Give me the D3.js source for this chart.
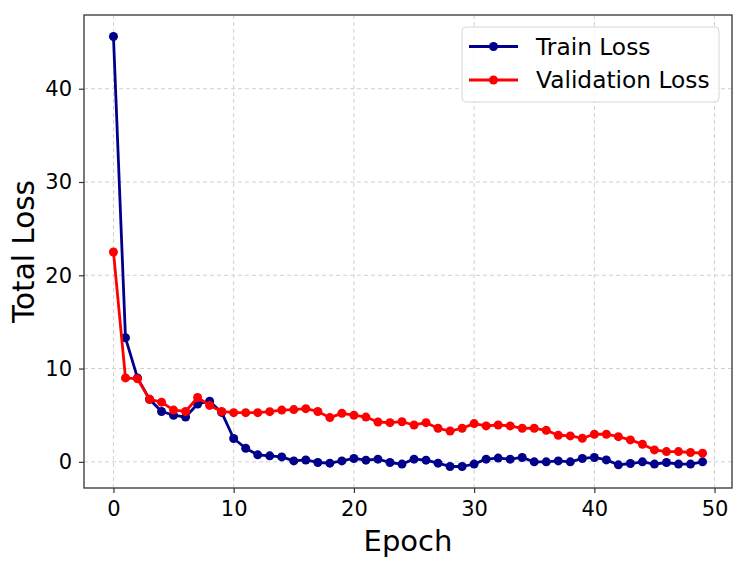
<!DOCTYPE html>
<html>
<head>
<meta charset="utf-8">
<script src="https://cdn.jsdelivr.net/npm/d3@7"></script>
<style>
  body { margin: 0; background: #fff; }
  text { font-family: "DejaVu Sans", sans-serif; }
</style>
</head>
<body>
<div id="chart"></div>
<script>
// epochs 0..49
const epochs = d3.range(50);

const trainLoss = [
  45.6, 13.3, 9.0, 6.7, 5.4, 5.0, 4.8, 6.2, 6.5, 5.3,
  2.5, 1.46, 0.75, 0.64, 0.53, 0.1, 0.2, -0.07, -0.14, 0.1,
  0.36, 0.18, 0.29, -0.07, -0.24, 0.29, 0.18, -0.14, -0.5, -0.5,
  -0.24, 0.29, 0.4, 0.29, 0.47, 0.0, 0.0, 0.1, 0.0, 0.36,
  0.47, 0.21, -0.32, -0.18, 0.0, -0.24, -0.07, -0.24, -0.24, 0.0
];

const valLoss = [
  22.5, 9.0, 8.9, 6.7, 6.4, 5.55, 5.4, 6.9, 6.05, 5.4,
  5.27, 5.27, 5.27, 5.38, 5.55, 5.6, 5.7, 5.4, 4.74, 5.2,
  5.0, 4.8, 4.27, 4.2, 4.3, 3.95, 4.2, 3.6, 3.3, 3.6,
  4.1, 3.85, 3.95, 3.85, 3.6, 3.6, 3.38, 2.85, 2.78, 2.53,
  2.96, 2.96, 2.7, 2.35, 1.89, 1.28, 1.1, 1.1, 1.0, 0.93
];

const xTicks = [0, 10, 20, 30, 40, 50];
const yTicks = [0, 10, 20, 30, 40];

const series = [
  { name: "Train Loss", values: trainLoss, color: "#00008b" },
  { name: "Validation Loss", values: valLoss, color: "#ff0000" }
];

const width = 747, height = 566;
const margin = { top: 15, right: 15, bottom: 78, left: 84 };
const w = width - margin.left - margin.right;
const h = height - margin.top - margin.bottom;

const svg = d3.select("#chart")
  .append("svg")
  .attr("width", width)
  .attr("height", height);

const g = svg.append("g")
  .attr("transform", `translate(${margin.left},${margin.top})`);

// matplotlib style 5% margins
const allVals = trainLoss.concat(valLoss);
const yMin = d3.min(allVals), yMax = d3.max(allVals);
const yPad = (yMax - yMin) * 0.05;
const xPad = 49 * 0.05;

const x = d3.scaleLinear().domain([-xPad, 49 + xPad]).range([0, w]);
const y = d3.scaleLinear().domain([yMin - yPad, yMax + yPad]).range([h, 0]);

// grid
g.append("g")
  .selectAll("line")
  .data(xTicks)
  .enter()
  .append("line")
  .attr("x1", d => x(d)).attr("x2", d => x(d))
  .attr("y1", 0).attr("y2", h)
  .attr("stroke", "#d0d0d0")
  .attr("stroke-width", 1)
  .attr("stroke-dasharray", "4,3");

g.append("g")
  .selectAll("line")
  .data(yTicks)
  .enter()
  .append("line")
  .attr("x1", 0).attr("x2", w)
  .attr("y1", d => y(d)).attr("y2", d => y(d))
  .attr("stroke", "#d0d0d0")
  .attr("stroke-width", 1)
  .attr("stroke-dasharray", "4,3");

// axes
const xAxis = g.append("g")
  .attr("transform", `translate(0,${h})`)
  .call(d3.axisBottom(x).tickValues(xTicks).tickSize(5).tickPadding(8));

const yAxis = g.append("g")
  .call(d3.axisLeft(y).tickValues(yTicks).tickSize(5).tickPadding(7));

[xAxis, yAxis].forEach(a => {
  a.select(".domain").remove();
  a.selectAll("line").attr("stroke", "#333").attr("stroke-width", 1.2);
  a.selectAll("text")
    .attr("font-family", "DejaVu Sans, sans-serif")
    .attr("font-size", 21)
    .attr("fill", "#000");
});

// frame
g.append("rect")
  .attr("width", w).attr("height", h)
  .attr("fill", "none")
  .attr("stroke", "#333")
  .attr("stroke-width", 1.3);

// lines + markers
const line = d3.line()
  .x((d, i) => x(epochs[i]))
  .y(d => y(d));

series.forEach(s => {
  g.append("path")
    .datum(s.values)
    .attr("fill", "none")
    .attr("stroke", s.color)
    .attr("stroke-width", 2.8)
    .attr("stroke-linejoin", "round")
    .attr("d", line);

  g.append("g")
    .selectAll("circle")
    .data(s.values)
    .enter()
    .append("circle")
    .attr("cx", (d, i) => x(epochs[i]))
    .attr("cy", d => y(d))
    .attr("r", 4.5)
    .attr("fill", s.color);
});

// axis labels
svg.append("text")
  .attr("x", margin.left + w / 2)
  .attr("y", 551)
  .attr("text-anchor", "middle")
  .attr("font-size", 29)
  .text("Epoch");

svg.append("text")
  .attr("transform", `translate(34,${margin.top + h / 2}) rotate(-90)`)
  .attr("text-anchor", "middle")
  .attr("font-size", 29.5)
  .text("Total Loss");

// legend
const legend = svg.append("g")
  .attr("transform", "translate(462,27)");

legend.append("rect")
  .attr("width", 257).attr("height", 75)
  .attr("rx", 4)
  .attr("fill", "#fff")
  .attr("fill-opacity", 0.8)
  .attr("stroke", "#d6d6d6")
  .attr("stroke-width", 1);

series.forEach((s, i) => {
  const row = legend.append("g")
    .attr("transform", `translate(0,${19.5 + i * 33.5})`);
  row.append("line")
    .attr("x1", 7).attr("x2", 56)
    .attr("stroke", s.color)
    .attr("stroke-width", 2.8);
  row.append("circle")
    .attr("cx", 31.5).attr("r", 4.5)
    .attr("fill", s.color);
  row.append("text")
    .attr("x", 74).attr("y", 8)
    .attr("font-size", 23.3)
    .text(s.name);
});
</script>
</body>
</html>
